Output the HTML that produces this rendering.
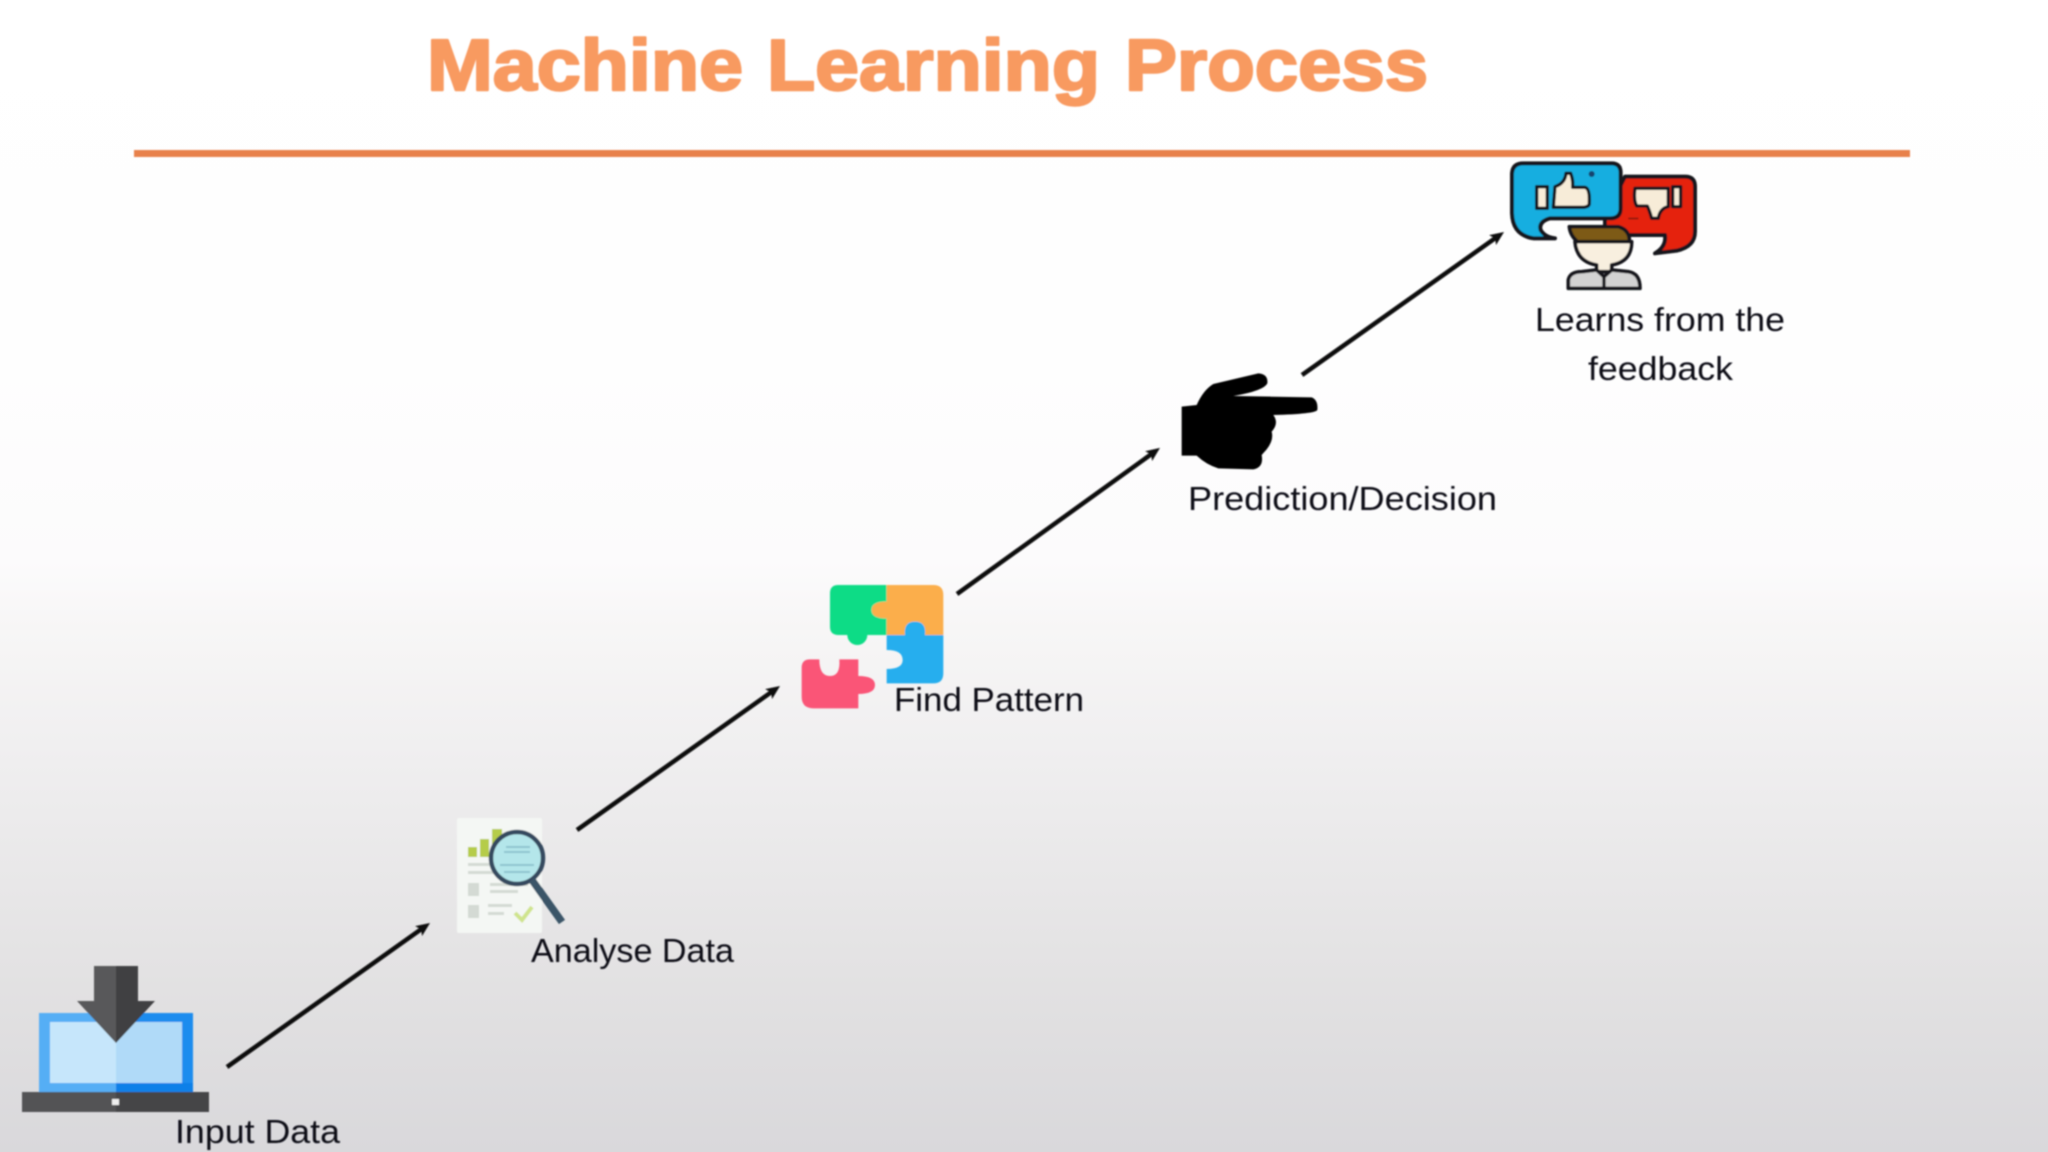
<!DOCTYPE html>
<html><head><meta charset="utf-8"><style>
html,body{margin:0;padding:0;background:#fff}
svg{display:block}
text{font-family:"Liberation Sans",Arial,sans-serif;fill:#111114;font-size:33px}
.t{font-size:72px;font-weight:700;fill:#f89a60;stroke:#f89a60;stroke-width:2.4px;stroke-linejoin:round}
</style></head><body>
<svg width="2048" height="1152" viewBox="0 0 2048 1152" xmlns="http://www.w3.org/2000/svg">
<defs>
<linearGradient id="bg" gradientUnits="userSpaceOnUse" x1="0" y1="0" x2="0" y2="1152">
<stop offset="0" stop-color="#ffffff"/><stop offset=".3" stop-color="#fefefe"/><stop offset=".486" stop-color="#fcfbfc"/><stop offset=".547" stop-color="#f7f6f6"/><stop offset=".647" stop-color="#f0eff0"/><stop offset=".753" stop-color="#e9e8e9"/><stop offset=".858" stop-color="#e2e1e2"/><stop offset="1" stop-color="#d9d8db"/>
</linearGradient>
<marker id="ah" markerUnits="userSpaceOnUse" markerWidth="20" markerHeight="16" refX="6" refY="7" orient="auto"><path d="M0 1 L14 7 L0 13 L3 7 Z" fill="#0c0c0c"/></marker>
<filter id="s"><feGaussianBlur stdDeviation=".8"/></filter>
</defs>
<rect width="2048" height="1152" fill="url(#bg)"/>
<g filter="url(#s)">
<text class="t" x="427" y="90" textLength="316" lengthAdjust="spacingAndGlyphs">Machine</text>
<text class="t" x="767" y="90" textLength="333" lengthAdjust="spacingAndGlyphs">Learning</text>
<text class="t" x="1125" y="90" textLength="303" lengthAdjust="spacingAndGlyphs">Process</text>
<rect x="134" y="150" width="1776" height="7" fill="#e8814c"/>

<g stroke="#0c0c0c" stroke-width="4.5" fill="none">
<line x1="227" y1="1067" x2="423.5" y2="927.6" marker-end="url(#ah)"/>
<line x1="577" y1="830" x2="773.5" y2="690.6" marker-end="url(#ah)"/>
<line x1="957" y1="594" x2="1153.5" y2="452.6" marker-end="url(#ah)"/>
<line x1="1302" y1="375" x2="1497.5" y2="236.6" marker-end="url(#ah)"/>
</g>

<!-- laptop -->
<rect x="39" y="1013" width="77" height="79" fill="#55aef5"/>
<rect x="116" y="1013" width="77" height="79" fill="#1a8cee"/>
<rect x="116" y="1083" width="77" height="9" fill="#0a80e8"/>
<rect x="50" y="1022" width="66" height="61" fill="#c6e6fb"/>
<rect x="116" y="1022" width="66" height="61" fill="#b0daf8"/>
<rect x="22" y="1092" width="94" height="20" fill="#525254"/>
<rect x="116" y="1092" width="93" height="20" fill="#454547"/>
<rect x="112" y="1099" width="7" height="6" fill="#eee"/>
<polygon points="94,966 116,966 116,1043 77,1001 94,1001" fill="#58585a"/>
<polygon points="138,966 116,966 116,1043 155,1001 138,1001" fill="#3f3f42"/>
<text x="175" y="1143" textLength="165" lengthAdjust="spacingAndGlyphs">Input Data</text>

<!-- analyse -->
<rect x="457" y="818" width="85" height="115" rx="2" fill="#f4f7f4"/>
<g fill="#b5cc4a"><rect x="468" y="847" width="9" height="10"/><rect x="480" y="839" width="9" height="18"/><rect x="492" y="829" width="10" height="28"/></g>
<g fill="#d4dad4"><rect x="468" y="863" width="40" height="3"/><rect x="468" y="871" width="30" height="3"/><rect x="468" y="883" width="11" height="13"/><rect x="490" y="883" width="38" height="3"/><rect x="490" y="890" width="28" height="3"/><rect x="468" y="905" width="11" height="13"/><rect x="488" y="904" width="24" height="3"/><rect x="488" y="912" width="16" height="3"/></g>
<path d="M515 913 L522 920 L532 907" stroke="#cfe48c" stroke-width="4" fill="none"/>
<circle cx="517" cy="858" r="26" fill="#b4e6ea" stroke="#34495e" stroke-width="4.5"/>
<g fill="#8fc4cf"><rect x="506" y="846" width="24" height="2"/><rect x="504" y="851" width="26" height="2"/><rect x="500" y="864" width="34" height="2"/><rect x="504" y="871" width="26" height="2"/></g>
<line x1="532" y1="880" x2="562" y2="922" stroke="#3a5468" stroke-width="7.5"/>
<text x="531" y="962" textLength="203" lengthAdjust="spacingAndGlyphs">Analyse Data</text>

<!-- puzzle -->
<g transform="translate(780,570) scale(.3333)">
<path d="M175 45 H320 V95 Q275 95 275 120 Q275 145 320 145 V195 H262 A30 30 0 1 1 202 195 H175 Q150 195 150 170 V70 Q150 45 175 45Z" fill="#0fdc86"/>
<path d="M320 45 H460 Q490 45 490 75 V195 H435 Q440 155 405 155 Q370 155 375 195 H320 V145 Q275 145 275 120 Q275 95 320 95Z" fill="#fbae4c"/>
<path d="M320 195 H375 Q370 155 405 155 Q440 155 435 195 H490 V310 Q490 340 460 340 H320 V297 Q368 297 368 270 Q368 240 320 240Z" fill="#27aeee"/>
<path d="M90 268 H118 Q118 318 150 318 Q182 318 178 268 H235 V318 Q285 318 285 345 Q285 372 235 372 V415 H100 Q65 415 65 380 V293 Q65 268 90 268Z" fill="#fa5577"/>
</g>
<text x="894" y="711" textLength="190" lengthAdjust="spacingAndGlyphs">Find Pattern</text>

<!-- hand -->
<g transform="translate(1160,360) scale(.3333)">
<path d="M65 140 L110 135 Q130 90 160 72 L295 40 Q325 42 322 70 Q312 92 220 108 L455 112 Q475 120 472 150 Q465 162 340 165 Q358 190 335 215 Q342 240 320 268 L305 285 Q312 322 280 328 L175 325 Q140 315 110 287 L65 287 Z" fill="#000"/>
</g>
<text x="1188" y="510" textLength="309" lengthAdjust="spacingAndGlyphs">Prediction/Decision</text>

<!-- feedback -->
<g transform="translate(1490,150) scale(.3333)" stroke="#14181f" stroke-width="12" stroke-linejoin="round" stroke-linecap="round">
<path d="M405 80 H585 Q615 80 615 110 V245 Q615 290 560 302 L495 310 Q530 290 525 255 H345 V200 Z" fill="#e5200f"/>
<path d="M100 40 H365 Q392 40 392 68 V175 Q392 205 360 205 H180 Q145 215 152 240 Q165 262 195 265 H130 Q68 255 66 190 V70 Q68 40 100 40Z" fill="#14aee0"/>
<path d="M140 110 H172 V175 H140Z M195 110 Q225 100 228 70 H242 Q250 90 248 112 H285 Q300 115 298 160 Q298 170 280 172 H190Z" fill="#f7ecd8" stroke-width="10"/>
<path d="M548 110 H572 V170 H548Z M435 115 H535 V170 Q510 175 505 205 H485 Q478 180 472 168 H440 Q430 150 435 115Z" fill="#f7ecd8" stroke-width="10"/>
<circle cx="305" cy="72" r="9" fill="#13436e" stroke="none"/>
<rect x="415" y="203" width="30" height="5" fill="#8a1c10" stroke="none"/>
<path d="M255 275 Q260 335 320 345 V365 H365 V345 Q425 335 425 275Z" fill="#f8efdf" stroke-width="11"/>
<path d="M235 415 V390 Q240 365 275 365 L320 360 L342 380 L365 360 L415 365 Q450 370 450 415Z" fill="#d2d2d2" stroke-width="11"/>
<path d="M342 380 V415" stroke-width="10" fill="none"/>
<path d="M238 230 H385 Q420 240 418 275 H262 Q240 255 238 230Z" fill="#7d5a18" stroke-width="11"/>
</g>
<text x="1535" y="331" textLength="250" lengthAdjust="spacingAndGlyphs">Learns from the</text>
<text x="1588" y="380" textLength="145" lengthAdjust="spacingAndGlyphs">feedback</text>
</g>
</svg>
</body></html>
